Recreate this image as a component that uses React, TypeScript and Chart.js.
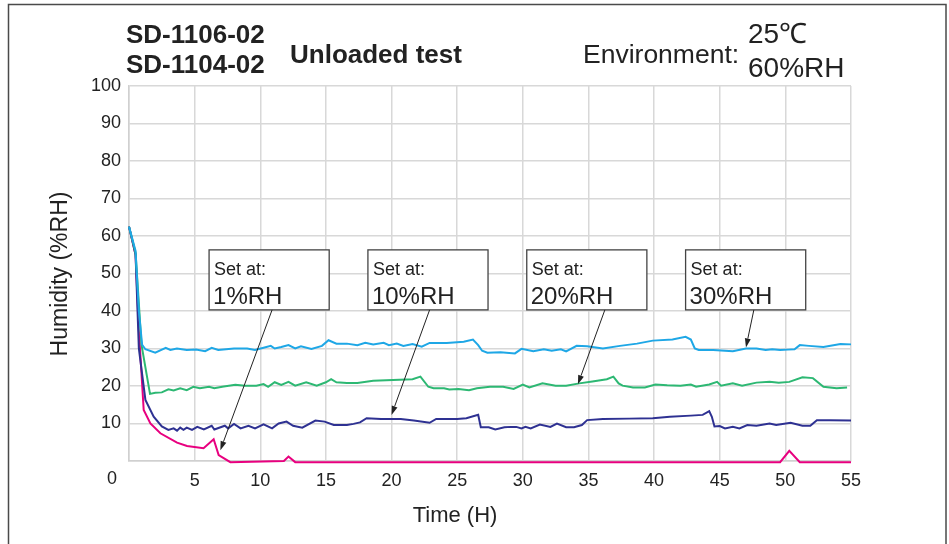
import React, { useEffect, useRef } from 'react';
import { Chart, registerables } from 'chart.js';
Chart.register(...registerables);

// ---- data (time in hours, humidity in %RH) ----
const set30Series: number[][] = [
  [0, 62.5], [0.5, 56], [0.75, 40], [1.0, 31], [1.25, 29.8], [2.0, 28.9], [2.8, 30.2], [3.15, 29.6], [3.65, 30], [4.4, 29.6],
  [5.1, 29.7], [5.8, 29.3], [6.3, 30.2], [6.8, 29.6], [8.0, 30], [9.0, 30], [9.6, 29.6], [10.25, 30.2], [10.8, 30.7], [11.1, 30],
  [11.6, 30.4], [12.15, 30.9], [12.66, 30], [13.1, 30.6], [13.9, 29.9], [14.7, 30.7], [15.2, 32.2], [15.8, 31.3], [16.6, 31.3],
  [17.4, 30.9], [18.0, 31.5], [18.6, 31.1], [19.4, 31.5], [19.8, 30.9], [20.4, 31.3], [20.9, 30.7], [21.6, 31.2], [22.3, 30.5],
  [22.9, 31.5], [24.2, 31.5], [25.5, 31.8], [26.2, 32.4], [26.6, 30.9], [26.9, 29.4], [27.3, 28.9], [28.3, 29], [29.4, 28.7],
  [29.9, 29.9], [30.8, 29.3], [31.6, 29.8], [32.2, 29.4], [32.9, 29.8], [33.3, 29.2], [34.1, 30.7], [34.9, 30.6], [36.1, 30],
  [37.4, 30.7], [38.7, 31.3], [39.9, 32.1], [41.4, 32.4], [42.4, 33.1], [42.8, 32.4], [43.1, 30], [43.4, 29.6], [44.5, 29.6],
  [46.0, 29.3], [47.0, 30], [47.8, 30], [48.5, 29.6], [49.0, 29.8], [49.6, 29.6], [50.2, 29.7], [50.7, 29.8], [51.1, 30.9],
  [51.8, 30.7], [52.9, 30.4], [54.2, 31.2], [55, 31.1],
];
const set20Series: number[][] = [
  [0, 62.5], [0.5, 55.5], [0.75, 42], [0.95, 31], [1.6, 17.9], [2.0, 18.2], [2.5, 18.3], [3.0, 19.1], [3.4, 18.8], [3.9, 19.4],
  [4.4, 18.9], [4.9, 19.8], [5.4, 19.4], [6.1, 19.8], [6.5, 19.4], [7.1, 19.8], [8.1, 20.3], [8.85, 20.1], [9.7, 20.1],
  [10.25, 20.5], [10.6, 19.8], [11.1, 21], [11.6, 20.3], [12.15, 21.1], [12.66, 20.1], [13.5, 21], [14.3, 20.1], [15.0, 21],
  [15.4, 21.8], [15.8, 21], [16.6, 20.8], [17.4, 20.8], [18.6, 21.4], [20.1, 21.6], [21.6, 21.8], [22.2, 22.5], [22.8, 19.8],
  [23.2, 19.4], [24.0, 19.4], [24.4, 19.1], [25.1, 19.2], [25.9, 18.9], [26.5, 19.4], [27.5, 19.8], [28.5, 19.8], [29.3, 19.2],
  [30.0, 20.4], [30.5, 19.6], [31.5, 20.7], [32.5, 20.1], [33.3, 20.1], [34.3, 20.7], [35.3, 21.2], [36.4, 21.8], [36.9, 22.5],
  [37.3, 20.7], [37.6, 20.1], [38.4, 19.6], [39.3, 19.6], [40.1, 20.4], [41.0, 20.2], [42.0, 20.1], [42.8, 20.4], [43.2, 19.8],
  [44.2, 20.4], [44.8, 21.1], [45.1, 20.1], [46.0, 20.7], [46.7, 20.1], [47.8, 20.9], [48.8, 21.1], [49.5, 20.9], [50.3, 21.1],
  [51.3, 22.3], [52.1, 22.1], [52.9, 19.8], [53.9, 19.4], [54.7, 19.6],
];
const set10Series: number[][] = [
  [0, 62.5], [0.5, 55], [0.75, 30], [1.25, 16.3], [1.88, 11.8], [2.5, 9.2], [3.0, 8.3], [3.4, 8.7], [3.66, 8.1], [3.9, 8.9],
  [4.15, 8.3], [4.4, 8.9], [4.8, 8.3], [5.2, 9.1], [5.7, 8.4], [6.3, 9.4], [6.5, 8.4], [7.3, 9.4], [7.55, 8.7], [8.0, 9.9],
  [8.5, 8.7], [9.1, 9.4], [9.6, 8.7], [10.25, 9.8], [10.9, 8.7], [11.4, 10], [12.0, 10.5], [12.5, 9.4], [13.2, 8.9],
  [14.2, 10.8], [14.9, 10.5], [15.6, 9.6], [16.6, 9.6], [17.1, 9.9], [17.6, 10.3], [18.1, 11.4], [19.2, 11.2], [20.7, 11.2],
  [21.7, 10.8], [22.9, 10.2], [23.4, 11.2], [25.0, 11.2], [25.7, 11.4], [26.6, 12.3], [26.8, 9], [27.4, 9], [27.9, 8.4],
  [28.6, 9], [29.1, 9.1], [29.5, 9.1], [29.9, 8.7], [30.2, 9.1], [30.6, 8.7], [31.3, 9.7], [32.1, 9.1], [32.6, 10], [33.3, 9],
  [33.9, 9], [34.5, 9.6], [34.9, 10.9], [36.1, 11.2], [38.1, 11.3], [39.9, 11.4], [41.2, 11.8], [42.8, 12.1], [43.7, 12.3],
  [44.2, 13.3], [44.4, 11.8], [44.6, 9.2], [45.0, 9.3], [45.4, 8.7], [46.0, 9.1], [46.5, 8.7], [47.1, 9.6], [47.8, 9.4],
  [48.8, 10], [49.3, 9.6], [50.4, 10.2], [51.3, 9.4], [51.9, 9.4], [52.4, 10.9], [53.4, 10.9], [55, 10.8],
];
const set1Series: number[][] = [
  [0, 62.5], [0.5, 55], [0.75, 35], [1.12, 13.6], [1.63, 10], [2.39, 7.4], [3.66, 4.9], [4.42, 4], [5.68, 3.4], [6.45, 5.8],
  [6.83, 1.6], [7.72, -0.3], [11.8, 0], [12.15, 1.2], [12.66, -0.3], [49.6, -0.3], [50.3, 2.7], [51.1, -0.3], [55, -0.3],
];

const xTickValues = [0, 5, 10, 15, 20, 25, 30, 35, 40, 45, 50, 55];
const yTickValues = [0, 10, 20, 30, 40, 50, 60, 70, 80, 90, 100];

const titleLines = ['SD-1106-02', 'SD-1104-02'];
const titleMain = 'Unloaded test';
const envLabel = 'Environment:';
const envValues = ['25℃', '60%RH'];
const xAxisTitle = 'Time (H)';
const yAxisTitle = 'Humidity (%RH)';

// annotation callouts (anchored in data units)
const annoLabels = ['1%RH', '10%RH', '20%RH', '30%RH'];
const annoBoxLeftT = [6.1, 18.2, 30.3, 42.4];
const annoTailT = [10.9, 22.9, 36.25, 47.6];
const annoTipT = [6.96, 20.0, 34.2, 47.0];
const annoTipV = [2.9, 12.3, 20.5, 30.3];

const FONT = '"Liberation Sans", Arial, Helvetica, sans-serif';
const INK = '#222222';

const decorPlugin = {
  id: 'decor',
  beforeDraw(chart: any) {
    const ctx = chart.ctx;
    ctx.save();
    ctx.fillStyle = '#ffffff';
    ctx.fillRect(0, 0, chart.width, chart.height);
    ctx.strokeStyle = '#4a4a4a';
    ctx.lineWidth = 1.5;
    ctx.strokeRect(8.5, 4.5, 937.5, chart.height + 20);
    ctx.restore();
  },
  afterDatasetsDraw(chart: any) {
    const ctx = chart.ctx;
    const xs = chart.scales.x;
    const ys = chart.scales.y;
    const boxTop = ys.getPixelForValue(56.3);
    const boxBottom = ys.getPixelForValue(40.3);
    ctx.save();
    for (let i = 0; i < annoLabels.length; i++) {
      const left = xs.getPixelForValue(annoBoxLeftT[i]);
      const right = xs.getPixelForValue(annoBoxLeftT[i] + 9.15);
      ctx.fillStyle = '#ffffff';
      ctx.fillRect(left, boxTop, right - left, boxBottom - boxTop);
      ctx.strokeStyle = '#444444';
      ctx.lineWidth = 1.3;
      ctx.strokeRect(left, boxTop, right - left, boxBottom - boxTop);
      ctx.fillStyle = INK;
      ctx.textAlign = 'left';
      ctx.textBaseline = 'alphabetic';
      ctx.font = `18px ${FONT}`;
      ctx.fillText('Set at:', left + 5, boxTop + 25);
      ctx.font = `24px ${FONT}`;
      ctx.fillText(annoLabels[i], left + 4, boxTop + 54);
      // arrow
      const x0 = xs.getPixelForValue(annoTailT[i]);
      const y0 = boxBottom;
      const x1 = xs.getPixelForValue(annoTipT[i]);
      const y1 = ys.getPixelForValue(annoTipV[i]);
      const ang = Math.atan2(y1 - y0, x1 - x0);
      const hl = 9, hw = 3;
      const bx = x1 - hl * Math.cos(ang);
      const by = y1 - hl * Math.sin(ang);
      ctx.strokeStyle = '#222222';
      ctx.lineWidth = 1;
      ctx.beginPath();
      ctx.moveTo(x0, y0);
      ctx.lineTo(bx, by);
      ctx.stroke();
      ctx.fillStyle = '#222222';
      ctx.beginPath();
      ctx.moveTo(x1, y1);
      ctx.lineTo(bx + hw * Math.sin(ang), by - hw * Math.cos(ang));
      ctx.lineTo(bx - hw * Math.sin(ang), by + hw * Math.cos(ang));
      ctx.closePath();
      ctx.fill();
    }
    ctx.restore();
  },
  afterDraw(chart: any) {
    const ctx = chart.ctx;
    const xs = chart.scales.x;
    const area = chart.chartArea;
    ctx.save();
    ctx.fillStyle = INK;
    ctx.textBaseline = 'alphabetic';
    ctx.textAlign = 'left';
    ctx.font = `bold 26px ${FONT}`;
    ctx.fillText(titleLines[0], 126, 43);
    ctx.fillText(titleLines[1], 126, 73);
    ctx.fillText(titleMain, 290, 63);
    ctx.font = `26.5px ${FONT}`;
    ctx.fillText(envLabel, 583, 63);
    ctx.font = `28px ${FONT}`;
    ctx.fillText(envValues[0], 748, 43);
    ctx.fillText(envValues[1], 748, 77);
    // origin label, set left of the axis corner
    ctx.font = `18px ${FONT}`;
    ctx.textAlign = 'center';
    ctx.textBaseline = 'middle';
    ctx.fillText(String(xTickValues[0]), xs.getPixelForValue(xTickValues[0]) - 17, area.bottom + 18);
    // axis titles
    ctx.font = `22px ${FONT}`;
    ctx.fillText(xAxisTitle, 455, 516);
    ctx.translate(61, 274);
    ctx.rotate(-Math.PI / 2);
    ctx.font = `23px ${FONT}`;
    ctx.fillText(yAxisTitle, 0, 0);
    ctx.restore();
  },
};

export default function App() {
  const ref = useRef<HTMLCanvasElement | null>(null);
  useEffect(() => {
    document.body.style.margin = '0';
    const canvas = ref.current;
    if (!canvas) return;
    const toPts = (s: number[][]) => s.map(([x, y]) => ({ x, y }));
    const chart = new Chart(canvas, {
      type: 'line',
      data: {
        datasets: [
          { label: '30%RH', data: toPts(set30Series), borderColor: '#1ea7e6' },
          { label: '20%RH', data: toPts(set20Series), borderColor: '#2db873' },
          { label: '10%RH', data: toPts(set10Series), borderColor: '#2e3192' },
          { label: '1%RH', data: toPts(set1Series), borderColor: '#e8007f' },
        ].map((d) => ({ ...d, borderWidth: 2, pointRadius: 0, fill: false, tension: 0, clip: false as any })),
      },
      options: {
        animation: false,
        responsive: false,
        devicePixelRatio: 1,
        layout: { padding: { left: 0, top: 86, right: 98, bottom: 0 } },
        plugins: { legend: { display: false }, tooltip: { enabled: false }, title: { display: false } },
        scales: {
          x: {
            type: 'linear',
            min: 0,
            max: 55,
            afterBuildTicks: (s: any) => { s.ticks = xTickValues.map((v) => ({ value: v })); },
            afterFit: (s: any) => { s.height = 83; },
            ticks: {
              callback: (v: any) => (v === 0 ? '' : String(v)),
              font: { family: FONT, size: 18 },
              color: INK,
              padding: 9,
              maxRotation: 0,
              autoSkip: false,
            },
            grid: { color: '#d8d8d8', lineWidth: 1.5, drawTicks: false },
            border: { color: '#d0d0d0', width: 1.5 },
          },
          y: {
            type: 'linear',
            min: 0,
            max: 100,
            afterBuildTicks: (s: any) => { s.ticks = yTickValues.map((v) => ({ value: v })); },
            afterFit: (s: any) => { s.width = 129; },
            ticks: {
              callback: (v: any) => (v === 0 ? '' : String(v)),
              font: { family: FONT, size: 18 },
              color: INK,
              padding: 8,
            },
            grid: { color: '#d8d8d8', lineWidth: 1.5, drawTicks: false },
            border: { color: '#d0d0d0', width: 1.5 },
          },
        },
      },
      plugins: [decorPlugin],
    });
    return () => chart.destroy();
  }, []);
  return (
    <div style={{ width: 949, height: 544 }}>
      <canvas ref={ref} width={949} height={544} style={{ display: 'block', width: 949, height: 544 }} />
    </div>
  );
}
